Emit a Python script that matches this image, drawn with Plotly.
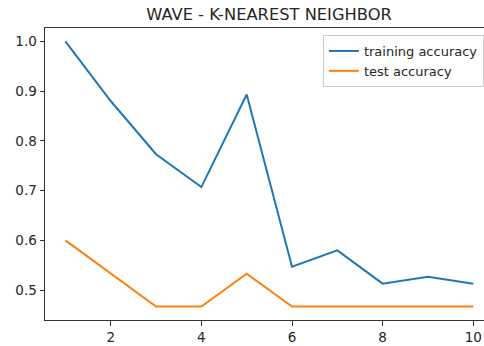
import plotly.graph_objects as go

neighbors = [1, 2, 3, 4, 5, 6, 7, 8, 9, 10]
training_accuracy = [1.0, 0.88, 0.773, 0.707, 0.893, 0.547, 0.58, 0.513, 0.527, 0.513]
test_accuracy = [0.6, 0.533, 0.467, 0.467, 0.533, 0.467, 0.467, 0.467, 0.467, 0.467]
x_ticks = [2, 4, 6, 8, 10]
y_ticks = [0.5, 0.6, 0.7, 0.8, 0.9, 1.0]

fig = go.Figure()
fig.add_trace(go.Scatter(x=neighbors, y=training_accuracy, mode="lines",
                         name="training accuracy", line=dict(color="#1f77b4", width=2)))
fig.add_trace(go.Scatter(x=neighbors, y=test_accuracy, mode="lines",
                         name="test accuracy", line=dict(color="#ff7f0e", width=2)))

font = "DejaVu Sans"
fig.update_layout(
    width=484, height=346,
    margin=dict(l=45, r=0, t=28, b=26),
    paper_bgcolor="white", plot_bgcolor="white",
    font=dict(family=font, size=13.5, color="#262626"),
    title=dict(text="WAVE - K-NEAREST NEIGHBOR", x=269/484, xref="container", xanchor="center",
               y=1-14/346, yref="container", yanchor="middle",
               font=dict(family=font, size=16.3, color="#262626")),
    showlegend=True,
    legend=dict(x=0.633, y=0.976, xanchor="left", yanchor="top",
                bgcolor="rgba(255,255,255,0.8)", bordercolor="#cccccc", borderwidth=1,
                font=dict(family=font, size=13, color="#262626"),
                tracegroupgap=0, itemwidth=30),
    xaxis=dict(range=[0.55, 10.236], tickvals=x_ticks, showgrid=False, zeroline=False,
               showline=True, linecolor="#333333", linewidth=1, mirror=True,
               ticks="outside", ticklen=4.5, tickcolor="#333333", tickwidth=1),
    yaxis=dict(range=[0.44, 1.0267], tickvals=y_ticks, tickformat=".1f", showgrid=False,
               zeroline=False, showline=True, linecolor="#333333", linewidth=1,
               ticks="outside", ticklen=4.5, tickcolor="#333333", tickwidth=1),
)

fig.write_html("out.html", config={"displayModeBar": False},
               post_script="document.body.style.margin='0';document.body.style.overflow='hidden';")
